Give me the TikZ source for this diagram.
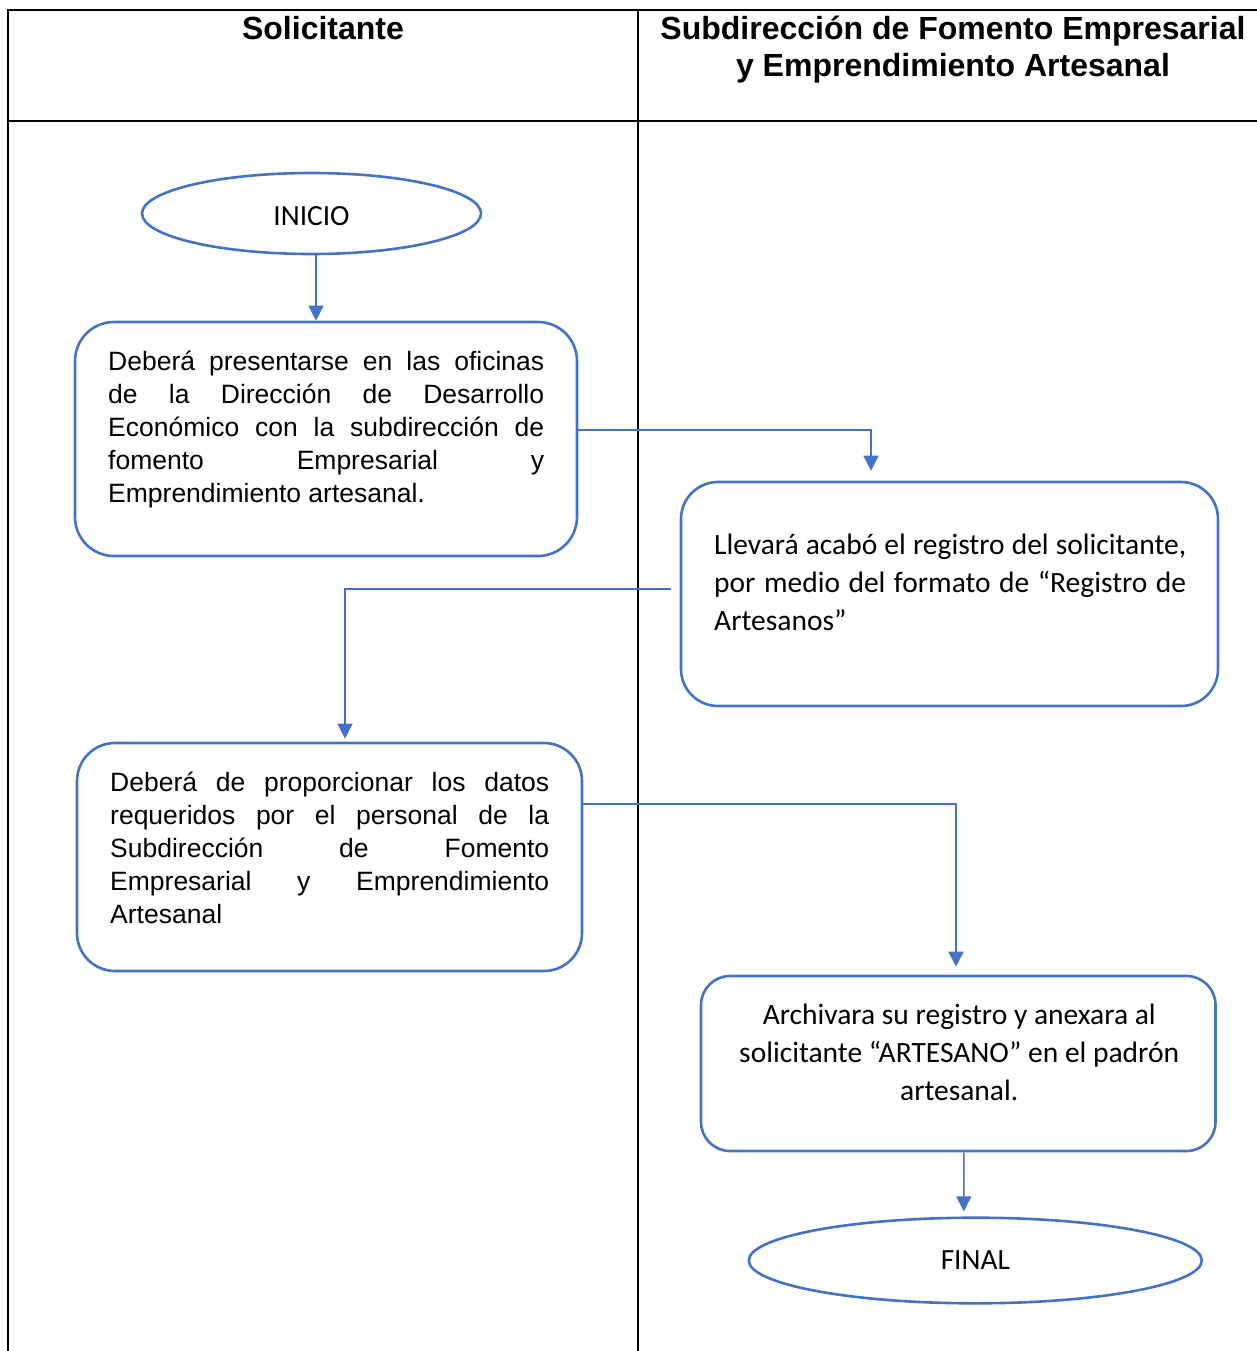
\documentclass[tikz,border=0pt]{standalone}
\usepackage{fontspec}
\setmainfont{Liberation Sans}
\newfontfamily\calfont{Carlito}
\usetikzlibrary{arrows.meta,shapes.geometric}
\definecolor{wblue}{HTML}{4472C4}
\newcommand{\jl}[2]{\makebox[#1][s]{#2}}
\begin{document}
\begin{tikzpicture}[x=1pt,y=-1pt,
  tableline/.style={draw=black,line width=2pt},
  procbox/.style={draw=wblue,line width=2.6pt,rectangle,inner sep=0pt},
  termin/.style={draw=wblue,line width=2.6pt,ellipse,inner sep=0pt,
    font=\calfont\fontsize{29.3pt}{38pt}\selectfont},
  arialtxt/.style={inner sep=0pt,font=\fontsize{26.5pt}{33pt}\selectfont},
  caltxt/.style={inner sep=0pt,font=\calfont\fontsize{29.5pt}{38pt}\selectfont},
  hdr/.style={inner sep=0pt,font=\bfseries\fontsize{32pt}{37pt}\selectfont},
  conn/.style={draw=wblue,line width=1.5pt,-{Triangle[length=15pt,width=15pt]}}]
\useasboundingbox (0,0) rectangle (1257,1351);
\clip (0,0) rectangle (1257,1351);
% table
\draw[tableline] (1270,10) -- (8,10) -- (8,1360);
\draw[tableline] (8,121) -- (1270,121);
\draw[tableline] (638,10) -- (638,1360);
% headers
\node[hdr,anchor=base] (h1) at (323,40) {Solicitante};
\node[hdr,anchor=base] (h2) at (953,39.5) {\parbox[t]{640pt}{\centering Subdirección de Fomento Empresarial\\ y Emprendimiento Artesanal}};
% start / end
\node[termin,minimum width=339pt,minimum height=81pt,text height=24.4pt,text depth=0pt] (inicio) at (311.5,213.5) {INICIO};
\node[termin,minimum width=453pt,minimum height=85.6pt,text height=17.6pt,text depth=0pt] (final) at (975.3,1260.5) {FINAL};
% process boxes
\node[procbox,minimum width=502pt,minimum height=234pt,rounded corners=39pt] (b1) at (326,439) {};
\node[procbox,minimum width=537pt,minimum height=224pt,rounded corners=37pt] (b2) at (949.5,594) {};
\node[procbox,minimum width=505pt,minimum height=228pt,rounded corners=38pt] (b3) at (329.5,857) {};
\node[procbox,minimum width=514.5pt,minimum height=175pt,rounded corners=29pt] (b4) at (958.25,1063.5) {};
% texts
\node[arialtxt,anchor=base west] (t1) at (108,370.5) {\parbox[t]{436pt}{\jl{436pt}{Deberá presentarse en las oficinas}\\
\jl{436pt}{de la Dirección de Desarrollo}\\
\jl{436pt}{Económico con la subdirección de}\\
\jl{436pt}{fomento Empresarial y}\\
Emprendimiento artesanal.}};
\node[caltxt,anchor=base west] (t2) at (714,554) {\parbox[t]{472pt}{\jl{472pt}{Llevará acabó el registro del solicitante,}\\
\jl{472pt}{por medio del formato de “Registro de}\\
Artesanos”}};
\node[arialtxt,anchor=base west] (t3) at (110,791) {\parbox[t]{439pt}{\jl{439pt}{Deberá de proporcionar los datos}\\
\jl{439pt}{requeridos por el personal de la}\\
\jl{439pt}{Subdirección de Fomento}\\
\jl{439pt}{Empresarial y Emprendimiento}\\
Artesanal}};
\node[caltxt,anchor=base] (t4) at (959.2,1024) {\parbox[t]{500pt}{\centering Archivara su registro y anexara al\\
solicitante “ARTESANO” en el padrón\\
artesanal.}};
% connectors
\draw[conn] ([xshift=4.5pt]inicio.south) -- ([xshift=-10pt]b1.north);
\draw[conn] ([yshift=9pt]b1.east) -| ([xshift=-78.5pt,yshift=10pt]b2.north);
\draw[conn] ([xshift=-9pt,yshift=5pt]b2.west) -| ([xshift=15.5pt,yshift=3pt]b3.north);
\draw[conn] ([yshift=53pt]b3.east) -| ([xshift=-2.25pt,yshift=8pt]b4.north);
\draw[conn] ([xshift=5.5pt]b4.south) -- ([xshift=-11.5pt,yshift=5pt]final.north);
\end{tikzpicture}
\end{document}
